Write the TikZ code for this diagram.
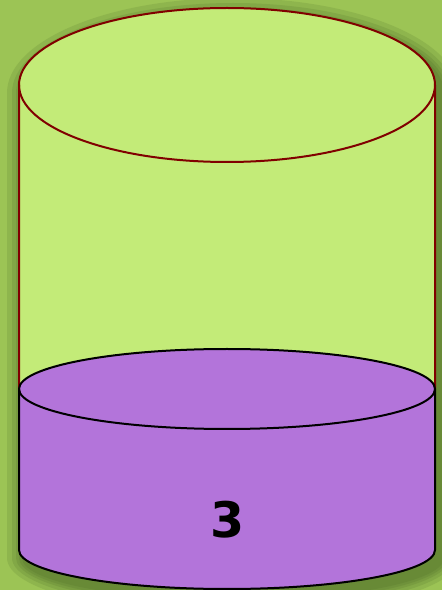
\documentclass[tikz,border=0pt]{standalone}
\usepackage{fontspec}
\newfontfamily\numfont{DejaVu Sans}
\definecolor{bggreen}{HTML}{9CC455}
\definecolor{shadowgreen}{HTML}{3E5A1E}
\definecolor{lightgreen}{HTML}{C3EB78}
\definecolor{outlinered}{HTML}{800000}
\definecolor{purplefill}{HTML}{B374DA}
\tikzset{
  greenpart/.style={fill=lightgreen, draw=outlinered, line width=2pt},
  purplepart/.style={fill=purplefill, draw=black, line width=2pt},
  shadowlayer/.style={fill=shadowgreen, fill opacity=0.14, draw=none},
  numlabel/.style={font=\numfont\bfseries\fontsize{49}{49}\selectfont, text=black, inner sep=0pt}
}
\begin{document}
\begin{tikzpicture}[x=1pt,y=1pt]
  \fill[bggreen] (0,0) rectangle (442,590);
  \useasboundingbox (0,0) rectangle (442,590);
  % soft shadow behind the cylinder
  \foreach \g in {18,13,9,6,3} {
    \pgfmathsetmacro{\rxs}{208+\g}
    \pgfmathsetmacro{\rys}{77+\g}
    \pgfmathsetmacro{\ryb}{39+\g}
    \fill[shadowlayer] ({19-\g+6},497) arc (180:0:{\rxs} and {\rys}) -- ({435+\g+6},32) arc (0:-180:{\rxs} and {\ryb}) -- cycle;
  }
  % green cylinder body
  \path[greenpart] (19,505) -- (19,201) arc (180:360:208 and 40) -- (435,505) arc (0:180:208 and 77) -- cycle;
  \draw[greenpart, fill=none] (19,505) arc (180:360:208 and 77);
  % purple part
  \path[purplepart] (19,201) -- (19,40) arc (180:360:208 and 39) -- (435,201) arc (0:180:208 and 40) -- cycle;
  \draw[purplepart, fill=none] (19,201) arc (180:360:208 and 40);
  \node[numlabel] (num) at (228,70) {3};
\end{tikzpicture}
\end{document}
